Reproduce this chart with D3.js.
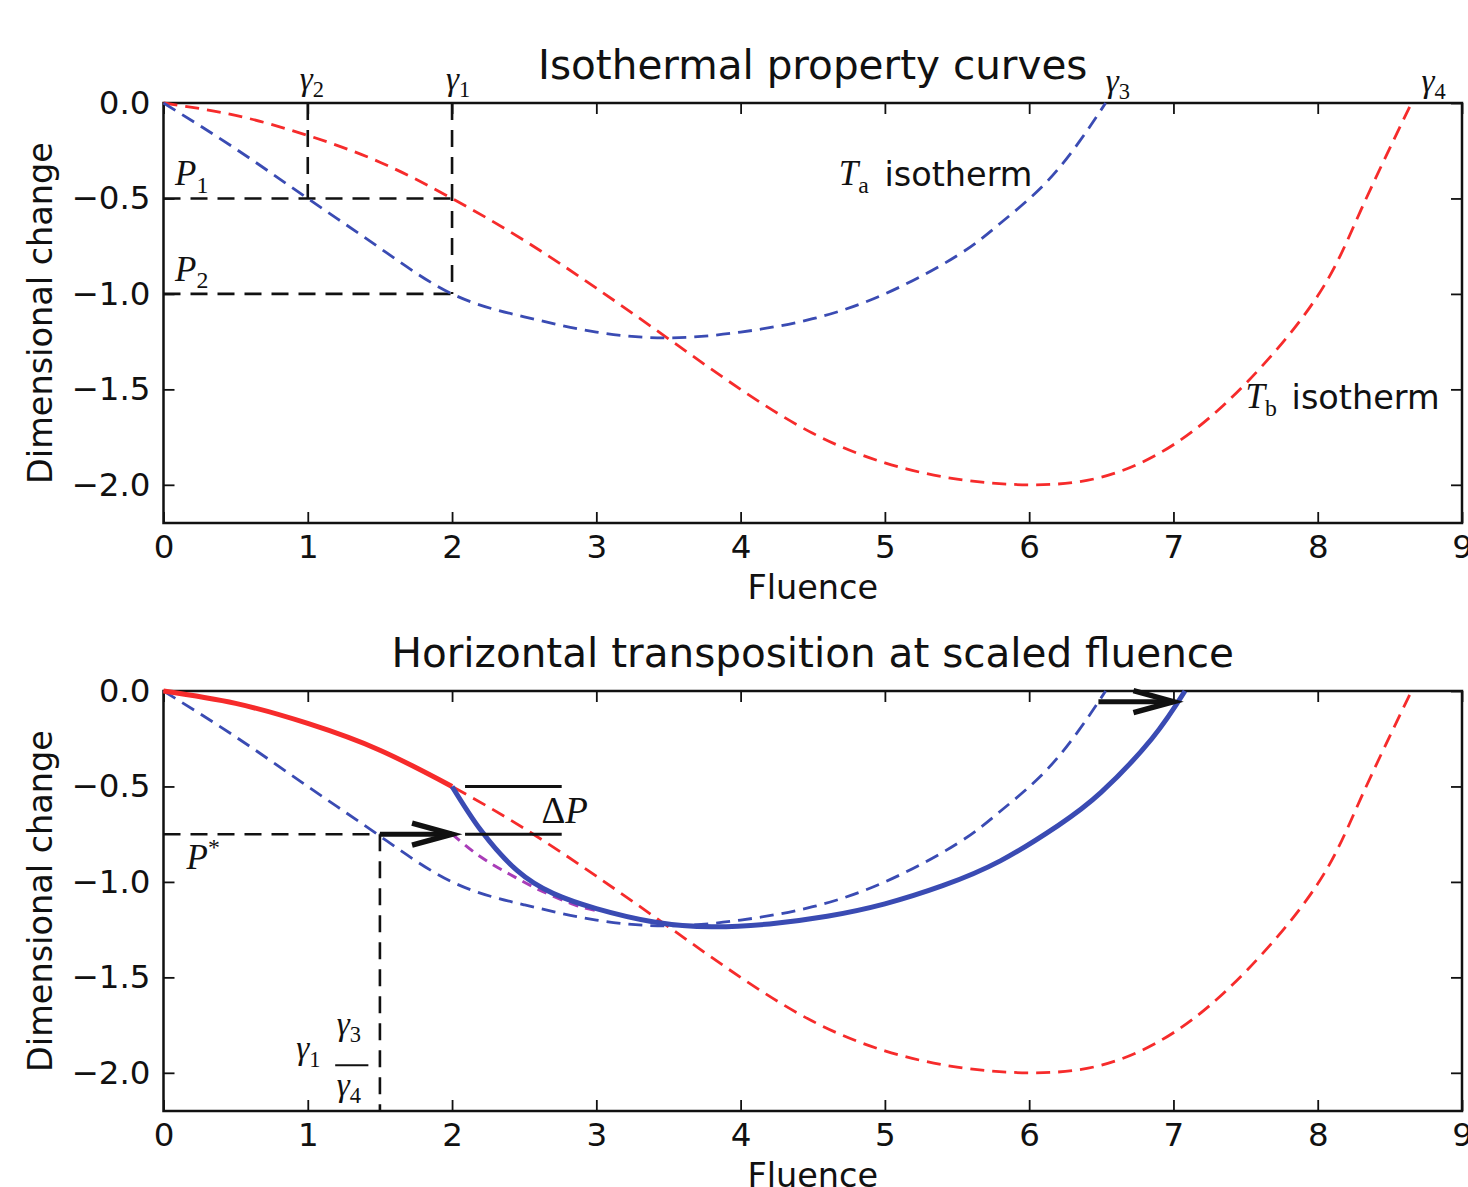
<!DOCTYPE html>
<html>
<head>
<meta charset="utf-8">
<script src="https://cdn.jsdelivr.net/npm/d3@7"></script>
<style>
  body { margin: 0; background: #fff; }
  text { font-family: "DejaVu Sans", sans-serif; fill: #111; }
  .math { font-family: "Liberation Serif", serif; font-style: italic; }
  .up { font-style: normal; }
</style>
</head>
<body>
<div id="container"></div>
<script>
var width = 1468,
    height = 1187;

// data
var taFluence = [0, 0.5, 1, 1.5, 2, 2.5, 3, 3.5, 4, 4.5, 5, 5.5, 5.8, 6.1, 6.35, 6.53];
var taChange  = [0, -0.24, -0.5, -0.76, -1.0, -1.12, -1.2, -1.23, -1.2, -1.13, -1.0, -0.8, -0.63, -0.43, -0.2, 0];

var tbFluence = [0, 0.5, 1, 1.5, 2, 2.5, 3, 3.5, 4, 4.5, 5, 5.5, 6, 6.5, 7, 7.5, 8, 8.3, 8.65];
var tbChange  = [0, -0.065, -0.17, -0.31, -0.5, -0.72, -0.97, -1.235, -1.5, -1.73, -1.885, -1.97, -2.0, -1.96, -1.79, -1.47, -1.01, -0.56, 0];

var shiftFluence = [2, 2.2, 2.45, 2.7, 3, 3.4, 3.8, 4.2, 4.6, 5, 5.4, 5.8, 6.2, 6.5, 6.85, 7.08];
var shiftChange  = [-0.5, -0.73, -0.94, -1.06, -1.14, -1.21, -1.235, -1.22, -1.18, -1.115, -1.02, -0.89, -0.705, -0.53, -0.25, 0];

var magFluence = [2, 2.2, 2.4, 2.6, 2.85, 3.0];
var magChange  = [-0.75, -0.87, -0.96, -1.04, -1.12, -1.15];

var xTicks = [0, 1, 2, 3, 4, 5, 6, 7, 8, 9];
var yTicks = [0, -0.5, -1, -1.5, -2];

var gamma1 = 2, gamma2 = 1, gamma3 = 6.5, gamma4 = 8.65;
var P1 = -0.5, P2 = -1.0, Pstar = -0.75;
var gScaled = 1.5;   // gamma1 * gamma3 / gamma4

var red = "#f62b2b", blue = "#3a4bb3", magenta = "#a93cb8";

function pts(xs, ys) { return xs.map(function(x, i) { return [x, ys[i]]; }); }

var svg = d3.select("#container").append("svg")
  .attr("width", width)
  .attr("height", height);

var x = d3.scaleLinear().domain([0, 9]).range([163.5, 1462]);

function makePanel(top, title) {
  var y = d3.scaleLinear().domain([-2.2, 0]).range([top + 420, top]);
  var g = svg.append("g");

  g.append("text")
    .attr("x", (163.5 + 1462) / 2).attr("y", top - 24)
    .attr("text-anchor", "middle")
    .style("font-size", "40.5px")
    .text(title);

  // ticks inside on all four sides
  g.append("g").attr("transform", "translate(0," + (top + 420) + ")")
    .call(d3.axisBottom(x).tickValues(xTicks).tickSize(-11).tickPadding(12).tickFormat(d3.format("d")));
  g.append("g").attr("transform", "translate(0," + top + ")")
    .call(d3.axisTop(x).tickValues(xTicks).tickSize(-11).tickFormat(""));
  g.append("g").attr("transform", "translate(163.5,0)")
    .call(d3.axisLeft(y).tickValues(yTicks).tickSize(-11).tickPadding(13).tickFormat(d3.format(".1f")));
  g.append("g").attr("transform", "translate(1462,0)")
    .call(d3.axisRight(y).tickValues(yTicks).tickSize(-11).tickFormat(""));

  g.selectAll(".domain").remove();
  g.selectAll(".tick line").attr("stroke", "#111").attr("stroke-width", 1.8);
  g.selectAll(".tick text").style("font-size", "32.5px").style("font-family", "DejaVu Sans").attr("fill", "#111");

  g.append("rect")
    .attr("x", 163.5).attr("y", top).attr("width", 1462 - 163.5).attr("height", 420)
    .attr("fill", "none").attr("stroke", "#111").attr("stroke-width", 2.5);

  g.append("text")
    .attr("x", (163.5 + 1462) / 2).attr("y", top + 496)
    .attr("text-anchor", "middle")
    .style("font-size", "33.5px")
    .text("Fluence");

  g.append("text")
    .attr("transform", "translate(52," + (top + 210) + ") rotate(-90)")
    .attr("text-anchor", "middle")
    .style("font-size", "33.5px")
    .text("Dimensional change");

  return { g: g, y: y };
}

function curve(g, y, data, color, w, dash) {
  var line = d3.line()
    .x(function(d) { return x(d[0]); })
    .y(function(d) { return y(d[1]); })
    .curve(d3.curveNatural);
  g.append("path")
    .datum(data)
    .attr("d", line)
    .attr("fill", "none")
    .attr("stroke", color)
    .attr("stroke-width", w)
    .attr("stroke-dasharray", dash || null);
}

function seg(g, y, x1, y1, x2, y2, w, dash) {
  g.append("line")
    .attr("x1", x(x1)).attr("y1", y(y1))
    .attr("x2", x(x2)).attr("y2", y(y2))
    .attr("stroke", "#111")
    .attr("stroke-width", w)
    .attr("stroke-dasharray", dash || null);
}

function arrow(g, y, x1, x2, yv) {
  seg(g, y, x1, yv, x2, yv, 5);
  var px = x(x2), py = y(yv);
  g.append("path")
    .attr("d", "M" + (px - 40) + "," + (py - 11) + "L" + px + "," + py + "L" + (px - 40) + "," + (py + 11))
    .attr("fill", "none").attr("stroke", "#111").attr("stroke-width", 5.5)
    .attr("stroke-linejoin", "miter");
}

// math-like label: main glyph + subscript (or superscript)
function sym(g, px, py, main, sub, size, supr) {
  var t = g.append("text").attr("class", "math")
    .attr("x", px).attr("y", py)
    .style("font-size", size + "px");
  t.append("tspan").text(main);
  if (sub) {
    t.append("tspan").attr("class", "up")
      .attr("dy", supr ? -size * 0.4 : size * 0.22)
      .style("font-size", (size * 0.68) + "px")
      .text(sub);
  }
  return t;
}

var dash = "14,8";
var kdash = "17,10";

// ---------- top panel ----------
var p1 = makePanel(103, "Isothermal property curves");
var g = p1.g, y = p1.y;

seg(g, y, 0, P1, gamma1, P1, 2.6, kdash);
seg(g, y, 0, P2, gamma1, P2, 2.6, kdash);
seg(g, y, gamma2, 0, gamma2, P1, 2.6, kdash);
seg(g, y, gamma1, 0, gamma1, P2, 2.6, kdash);

curve(g, y, pts(tbFluence, tbChange), red, 2.8, dash);
curve(g, y, pts(taFluence, taChange), blue, 2.8, dash);

sym(g, x(0.08), y(-0.43), "P", "1", 35);
sym(g, x(0.08), y(-0.93), "P", "2", 35);
sym(g, x(gamma2) - 8, 90, "γ", "2", 33);
sym(g, x(gamma1) - 6, 90, "γ", "1", 33);
sym(g, x(6.53), 92, "γ", "3", 33);
sym(g, x(8.72), 92, "γ", "4", 33);

var ta = sym(g, x(4.68), y(-0.43), "T", "a", 35);
ta.append("tspan").attr("class", "up").attr("dy", -7).attr("dx", 5).style("font-family", "DejaVu Sans").style("font-size", "33.5px").text(" isotherm");
var tb = sym(g, x(7.5), y(-1.6), "T", "b", 35);
tb.append("tspan").attr("class", "up").attr("dy", -7).attr("dx", 4).style("font-family", "DejaVu Sans").style("font-size", "33.5px").text(" isotherm");

// ---------- bottom panel ----------
var p2 = makePanel(691, "Horizontal transposition at scaled fluence");
g = p2.g; y = p2.y;

curve(g, y, pts(taFluence, taChange), blue, 2.8, dash);
curve(g, y, pts(tbFluence, tbChange), red, 2.8, dash);
curve(g, y, pts(magFluence, magChange), magenta, 3, "10,7");

var redSolid = pts(tbFluence, tbChange).filter(function(d) { return d[0] <= gamma1; });
curve(g, y, redSolid, red, 5);
curve(g, y, pts(shiftFluence, shiftChange), blue, 5);

seg(g, y, 0, Pstar, gScaled, Pstar, 2.6, kdash);
seg(g, y, gScaled, Pstar, gScaled, -2.2, 2.6, kdash);
arrow(g, y, gScaled, gamma1, Pstar);
arrow(g, y, 6.48, 7.0, -0.056);

seg(g, y, 2.09, P1, 2.76, P1, 3);
seg(g, y, 2.09, Pstar, 2.76, Pstar, 3);

var dp = g.append("text").attr("class", "math")
  .attr("x", x(2.62)).attr("y", y(-0.69))
  .style("font-size", "37px");
dp.append("tspan").attr("class", "up").text("Δ");
dp.append("tspan").text("P");

sym(g, x(0.16), y(-0.93), "P", "*", 35, true);

sym(g, x(0.92), y(-1.93), "γ", "1", 33);
sym(g, x(1.2), y(-1.8), "γ", "3", 33);
g.append("line")
  .attr("x1", x(1.19)).attr("x2", x(1.42))
  .attr("y1", y(-1.96)).attr("y2", y(-1.96))
  .attr("stroke", "#111").attr("stroke-width", 2);
sym(g, x(1.2), y(-2.12), "γ", "4", 33);
</script>
</body>
</html>
